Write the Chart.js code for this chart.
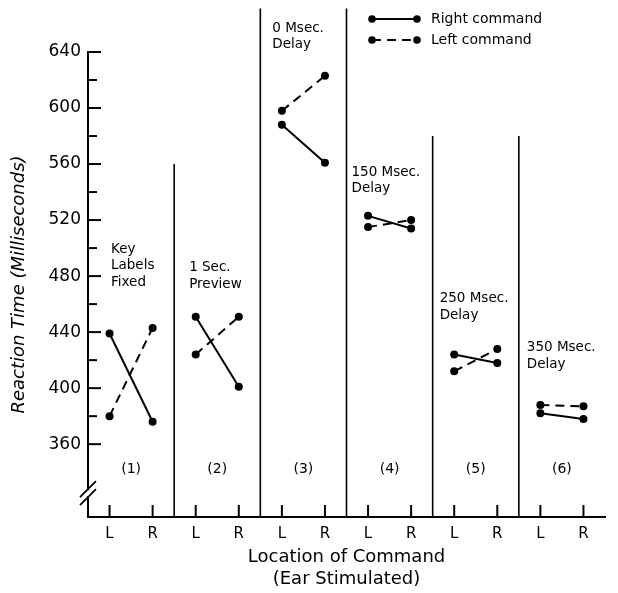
<!DOCTYPE html>
<html lang="en">
<head>
  <meta charset="UTF-8" />
  <title>Reaction Time by Location of Command</title>
  <script src="https://cdn.jsdelivr.net/npm/chart.js"></script>
  <style>
    body { margin: 0; background: #fff; }
    #wrap { width: 618px; height: 593px; }
  </style>
</head>
<body>
  <div id="wrap"><canvas id="rtChart" width="618" height="593"></canvas></div>

  <script>
    // Data
    const panelNames = [
      ['Key', 'Labels', 'Fixed'],
      ['1 Sec.', 'Preview'],
      ['0 Msec.', 'Delay'],
      ['150 Msec.', 'Delay'],
      ['250 Msec.', 'Delay'],
      ['350 Msec.', 'Delay']
    ];
    const panelNumbers = ['(1)', '(2)', '(3)', '(4)', '(5)', '(6)'];
    const earLabels = ['L', 'R', 'L', 'R', 'L', 'R', 'L', 'R', 'L', 'R', 'L', 'R'];

    const rightCommand = [439, 376, 451, 401, 588, 561, 523, 514, 424, 418, 382, 378];
    const leftCommand  = [380, 443, 424, 451, 598, 623, 515, 520, 412, 428, 388, 387];

    const yMajorTicks = [360, 400, 440, 480, 520, 560, 600, 640];
    const yMinorTicks = [380, 420, 460, 500, 540, 580, 620];

    // height (ms) up to which each panel divider is drawn
    const dividerTops = [560, 671, 671, 580, 580];

    // where the panel captions sit: first line value (ms) and x offset from panel edge (px)
    const captionAt = [499, 486, 657, 554, 464, 429];
    const captionDx = [23, 15, 12, 5, 7, 8];

    const FONT = "'DejaVu Sans', sans-serif";
    Chart.defaults.color = '#000';
    Chart.defaults.font.family = FONT;

    const hideBetweenPanels = ctx => ctx.p0DataIndex % 2 === 1 ? 'rgba(0,0,0,0)' : undefined;

    const decorations = {
      id: 'decorations',
      afterDraw(chart) {
        const { ctx, chartArea } = chart;
        const x = chart.scales.x;
        const y = chart.scales.y;
        ctx.save();
        ctx.strokeStyle = '#000';
        ctx.fillStyle = '#000';
        ctx.lineCap = 'butt';

        // y tick marks (pointing inward)
        ctx.lineWidth = 2;
        y.ticks.forEach(t => {
          const py = y.getPixelForValue(t.value);
          const len = yMajorTicks.includes(t.value) ? 13 : 9;
          ctx.beginPath();
          ctx.moveTo(chartArea.left - 1, py);
          ctx.lineTo(chartArea.left + len, py);
          ctx.stroke();
        });

        // x tick marks (pointing up)
        earLabels.forEach((l, i) => {
          const px = x.getPixelForValue(i);
          ctx.beginPath();
          ctx.moveTo(px, chartArea.bottom);
          ctx.lineTo(px, chartArea.bottom - 12);
          ctx.stroke();
        });

        // panel dividers
        ctx.lineWidth = 1.6;
        dividerTops.forEach((top, i) => {
          const px = (x.getPixelForValue(2 * i + 1) + x.getPixelForValue(2 * i + 2)) / 2;
          ctx.beginPath();
          ctx.moveTo(px, chartArea.bottom);
          ctx.lineTo(px, y.getPixelForValue(top));
          ctx.stroke();
        });

        // axis break
        const by = y.getPixelForValue(325);
        ctx.fillStyle = '#fff';
        ctx.fillRect(chartArea.left - 3, by - 3, 6, 6);
        ctx.strokeStyle = '#000';
        ctx.lineWidth = 1.8;
        [-4, 4].forEach(d => {
          ctx.beginPath();
          ctx.moveTo(chartArea.left - 8, by + d + 8);
          ctx.lineTo(chartArea.left + 8, by + d - 8);
          ctx.stroke();
        });

        // panel numbers and captions
        ctx.fillStyle = '#000';
        ctx.textBaseline = 'middle';
        panelNumbers.forEach((n, i) => {
          const px = (x.getPixelForValue(2 * i) + x.getPixelForValue(2 * i + 1)) / 2;
          ctx.font = '14px ' + FONT;
          ctx.textAlign = 'center';
          ctx.fillText(n, px, y.getPixelForValue(342));

          const left = i === 0 ? chartArea.left
            : (x.getPixelForValue(2 * i - 1) + x.getPixelForValue(2 * i)) / 2;
          ctx.font = '13.5px ' + FONT;
          ctx.textAlign = 'left';
          const y0 = y.getPixelForValue(captionAt[i]);
          panelNames[i].forEach((line, k) => {
            ctx.fillText(line, left + captionDx[i], y0 + k * 16.5);
          });
        });

        // legend
        chart.data.datasets.forEach((ds, i) => {
          const ly = 19 + i * 21;
          const x0 = 372, x1 = 417;
          ctx.lineWidth = 2;
          ctx.setLineDash(ds.borderDash || []);
          ctx.beginPath();
          ctx.moveTo(x0, ly);
          ctx.lineTo(x1, ly);
          ctx.stroke();
          ctx.setLineDash([]);
          [x0, x1].forEach(px => {
            ctx.beginPath();
            ctx.arc(px, ly, 3.8, 0, Math.PI * 2);
            ctx.fill();
          });
          ctx.font = '14px ' + FONT;
          ctx.textAlign = 'left';
          ctx.fillText(ds.label, 431, ly);
        });

        ctx.restore();
      }
    };

    new Chart(document.getElementById('rtChart'), {
      type: 'line',
      data: {
        labels: earLabels,
        datasets: [
          {
            label: 'Right command',
            data: rightCommand,
            borderColor: '#000',
            backgroundColor: '#000',
            borderWidth: 2,
            pointRadius: 4,
            pointBorderWidth: 0,
            segment: { borderColor: hideBetweenPanels }
          },
          {
            label: 'Left command',
            data: leftCommand,
            borderColor: '#000',
            backgroundColor: '#000',
            borderWidth: 2,
            borderDash: [9, 6],
            pointRadius: 4,
            pointBorderWidth: 0,
            segment: { borderColor: hideBetweenPanels }
          }
        ]
      },
      options: {
        responsive: false,
        animation: false,
        layout: { padding: { top: 52, right: 13, left: 0, bottom: 0 } },
        plugins: { legend: { display: false }, tooltip: { enabled: false } },
        scales: {
          x: {
            type: 'category',
            offset: true,
            grid: { display: false, drawTicks: false },
            border: { display: true, color: '#000', width: 2 },
            ticks: { font: { size: 15 }, padding: 8, maxRotation: 0, autoSkip: false },
            title: {
              display: true,
              text: ['Location of Command', '(Ear Stimulated)'],
              font: { size: 18, lineHeight: 1.25 },
              padding: { top: 0, bottom: 2 }
            },
            afterFit: scale => { scale.height = 76; }
          },
          y: {
            min: 308,
            max: 640,
            grid: { display: false, drawTicks: false },
            border: { display: true, color: '#000', width: 2 },
            afterBuildTicks: scale => {
              scale.ticks = yMajorTicks.concat(yMinorTicks).map(v => ({ value: v }));
            },
            ticks: {
              font: { size: 17 },
              padding: 7,
              callback: v => yMajorTicks.includes(v) ? String(v) : ''
            },
            title: {
              display: true,
              text: 'Reaction Time (Milliseconds)',
              font: { size: 18, style: 'italic', lineHeight: 1.2 },
              padding: { top: 9, bottom: 0 }
            },
            afterFit: scale => { scale.width = 88; }
          }
        }
      },
      plugins: [decorations]
    });
  </script>
</body>
</html>
